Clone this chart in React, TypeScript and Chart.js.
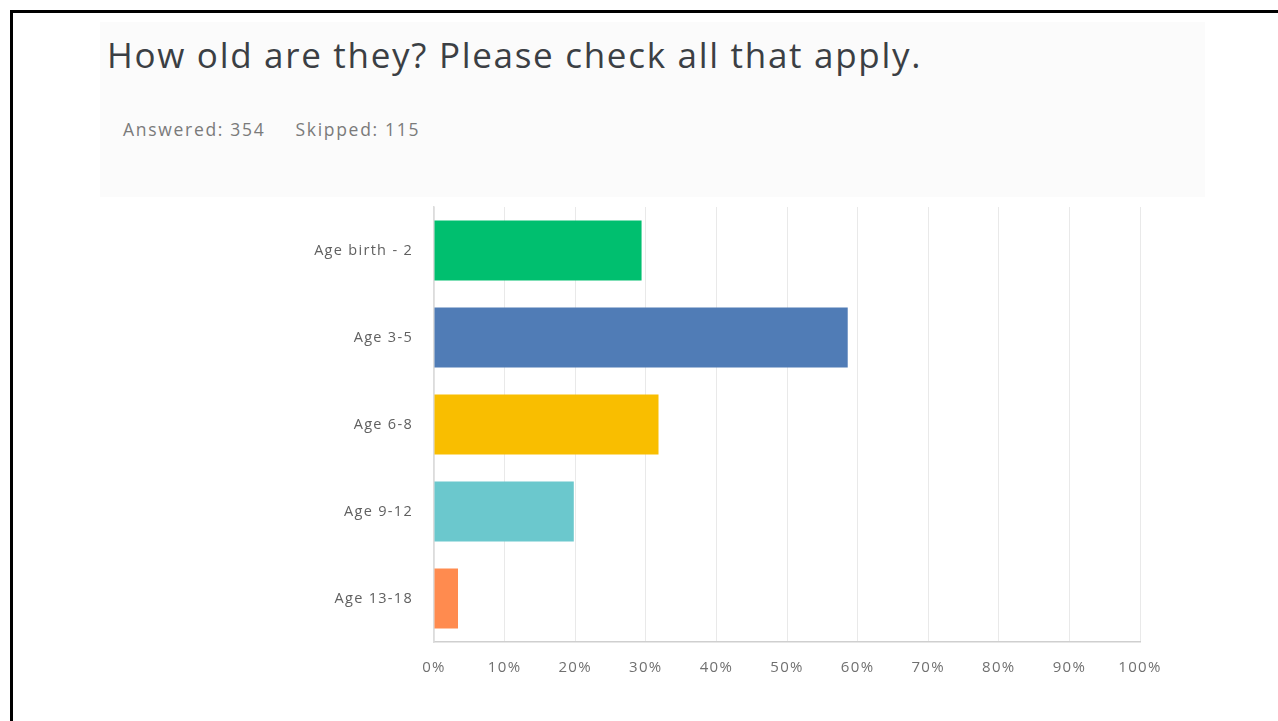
import React, { useEffect, useRef } from "react";
import { Chart, registerables } from "chart.js";

Chart.register(...registerables);

const categories = ["Age birth - 2", "Age 3-5", "Age 6-8", "Age 9-12", "Age 13-18"];
const values = [29.4, 58.6, 31.8, 19.8, 3.4];
const barColors = ["#00bf6f", "#507cb6", "#f9be00", "#6bc8cd", "#ff8b4f"];
const xTicks = [0, 10, 20, 30, 40, 50, 60, 70, 80, 90, 100];
const titleText = "How old are they? Please check all that apply.";
const answeredText = "Answered: 354";
const skippedText = "Skipped: 115";

const spacingPlugin = {
  id: "spacing",
  beforeDraw: (chart: any) => {
    (chart.ctx as any).letterSpacing = "1.3px";
  },
};

export default function App() {
  const ref = useRef<HTMLCanvasElement | null>(null);

  useEffect(() => {
    document.body.style.margin = "0";
    const ctx = ref.current!.getContext("2d")!;
    const chart = new Chart(ctx, {
      type: "bar",
      data: {
        labels: categories,
        datasets: [
          {
            data: values,
            backgroundColor: barColors,
            borderWidth: 0,
            categoryPercentage: 0.69,
            barPercentage: 1,
          },
        ],
      },
      plugins: [spacingPlugin],
      options: {
        indexAxis: "y",
        animation: false,
        responsive: false,
        maintainAspectRatio: false,
        layout: { padding: { left: 300, right: 138, top: 207, bottom: 29 } },
        plugins: { legend: { display: false }, tooltip: { enabled: false } },
        scales: {
          x: {
            min: 0,
            max: 100,
            afterFit: (s: any) => { s.height = 50; },
            afterBuildTicks: (s: any) => { s.ticks = xTicks.map((v) => ({ value: v })); },
            grid: { color: "#e9e9e9", drawTicks: false, lineWidth: 1 },
            border: { display: true, color: "#cfcfcf", width: 1.5 },
            ticks: {
              padding: 17,
              color: "#707070",
              font: { family: "'Open Sans', sans-serif", size: 15 },
              callback: (v: any) => v + "%",
            },
          },
          y: {
            afterFit: (s: any) => { s.width = 134; },
            grid: { display: false, drawTicks: false },
            border: { display: true, color: "#dcdcdc", width: 1.5 },
            ticks: {
              padding: 21,
              color: "#606060",
              font: { family: "'Open Sans', sans-serif", size: 14.5 },
            },
          },
        },
      },
    });
    return () => chart.destroy();
  }, []);

  return (
    <div style={{ position: "fixed", left: 0, top: 0, width: 1278, height: 721, background: "#ffffff", overflow: "hidden" }}>
      <div style={{ position: "absolute", left: 100, top: 22, width: 1105, height: 175, background: "#fbfbfb" }} />
      <div style={{ position: "absolute", left: 10, top: 10, width: 1268, height: 3, background: "#000" }} />
      <div style={{ position: "absolute", left: 10, top: 10, width: 3, height: 711, background: "#000" }} />
      <div
        style={{
          position: "absolute",
          left: 107,
          top: 32,
          fontFamily: "'Open Sans', sans-serif",
          fontSize: 35,
          letterSpacing: "1.7px",
          color: "#3b3f44",
          whiteSpace: "nowrap",
          lineHeight: "46px",
        }}
      >
        {titleText}
      </div>
      <div
        style={{
          position: "absolute",
          left: 123,
          top: 117,
          fontFamily: "'Open Sans', sans-serif",
          fontSize: 17.5,
          letterSpacing: "1.7px",
          color: "#7a7a7a",
          whiteSpace: "nowrap",
          lineHeight: "24px",
        }}
      >
        <span>{answeredText}</span>
        <span style={{ marginLeft: 30 }}>{skippedText}</span>
      </div>
      <canvas ref={ref} width={1278} height={721} style={{ position: "absolute", left: 0, top: 0 }} />
    </div>
  );
}
